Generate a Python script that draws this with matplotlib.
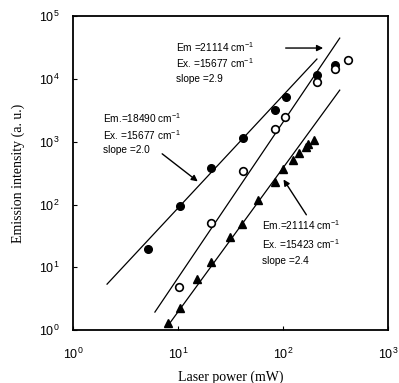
import numpy as np
import matplotlib.pyplot as plt
from matplotlib.ticker import FixedLocator, NullLocator

plt.rcParams['font.family'] = ['Liberation Sans', 'DejaVu Sans']
plt.rcParams['mathtext.default'] = 'regular'

# Em 18490 / Ex 15677 (filled circles)
p_fill = [5.2, 10.4, 20.6, 41.6, 84, 107, 211, 313]
i_fill = [19.5, 94, 380, 1140, 3170, 5130, 11500, 16600]
# Em 21114 / Ex 15677 (open circles)
p_open = [10.2, 20.6, 41.6, 84, 105, 211, 313, 415]
i_open = [4.8, 50.5, 340, 1590, 2470, 8900, 14400, 19900]
# Em 21114 / Ex 15423 (triangles)
p_tri = [8.0, 10.4, 15.2, 20.6, 31.3, 40.7, 57.7, 84, 100, 125, 142, 166, 173, 197]
i_tri = [1.29, 2.24, 6.5, 12.1, 30.2, 48.7, 117, 228, 366, 509, 658, 820, 916, 1060]

# fitted lines (end points)
fit_fill_x = [2.11, 211]
fit_fill_y = [5.4, 20700]
fit_open_x = [6.03, 348]
fit_open_y = [1.94, 44600]
fit_tri_x = [7.85, 348]
fit_tri_y = [1.12, 6620]

# annotation text
lab_fill = ['Em.=18490 cm$^{-1}$', 'Ex. =15677 cm$^{-1}$', 'slope =2.0']
lab_open = ['Em =21114 cm$^{-1}$', 'Ex. =15677 cm$^{-1}$', 'slope =2.9']
lab_tri = ['Em.=21114 cm$^{-1}$', 'Ex. =15423 cm$^{-1}$', 'slope =2.4']

fig = plt.figure(figsize=(3.99, 3.83), dpi=100)
ax = fig.add_axes([0.183, 0.138, 0.789, 0.82])
ax.set_xscale('log')
ax.set_yscale('log')
ax.set_xlim(1, 1000)
ax.set_ylim(1, 1e5)

ax.plot(fit_fill_x, fit_fill_y, color='black', lw=0.9)
ax.plot(fit_open_x, fit_open_y, color='black', lw=0.9)
ax.plot(fit_tri_x, fit_tri_y, color='black', lw=0.9)

ax.plot(p_fill, i_fill, 'o', color='black', ms=5.5, ls='none')
ax.plot(p_open, i_open, 'o', mfc='white', mec='black', mew=1.2, ms=5.5, ls='none')
ax.plot(p_tri, i_tri, '^', color='black', ms=5.5, ls='none')

ax.xaxis.set_major_locator(FixedLocator([1, 10, 100, 1000]))
ax.yaxis.set_major_locator(FixedLocator([1, 10, 100, 1e3, 1e4, 1e5]))
ax.xaxis.set_minor_locator(NullLocator())
ax.yaxis.set_minor_locator(NullLocator())
ax.set_xticklabels(['$10^{0}$', '$10^{1}$', '$10^{2}$', '$10^{3}$'])
ax.set_yticklabels(['$10^{0}$', '$10^{1}$', '$10^{2}$', '$10^{3}$', '$10^{4}$', '$10^{5}$'])
ax.tick_params(direction='in', length=3, labelsize=9, pad=12)
ax.tick_params(axis='y', pad=10)
for s in ax.spines.values():
    s.set_linewidth(1.3)

ax.set_xlabel('Laser power (mW)', family='Liberation Serif', fontsize=10, labelpad=6)
ax.set_ylabel('Emission intensity (a. u.)', family='Liberation Serif', fontsize=10, labelpad=10)

fs = 7.3
for t, y in zip(lab_fill, [2380, 1270, 735]):
    ax.text(1.93, y, t, fontsize=fs, va='center')
for t, y in zip(lab_open, [32200, 17900, 10000]):
    ax.text(9.6, y, t, fontsize=fs, va='center')
for t, y in zip(lab_tri, [47, 23.4, 12.6]):
    ax.text(63, y, t, fontsize=fs, va='center')

ap = dict(arrowstyle='-|>', color='black', lw=1.0, mutation_scale=9)
ax.annotate('', xy=(16.2, 219), xytext=(6.74, 683), arrowprops=ap)
ax.annotate('', xy=(257, 31000), xytext=(100, 31000), arrowprops=ap)
ax.annotate('', xy=(98, 273), xytext=(173, 63), arrowprops=ap)

fig.savefig('out.png', dpi=100)
